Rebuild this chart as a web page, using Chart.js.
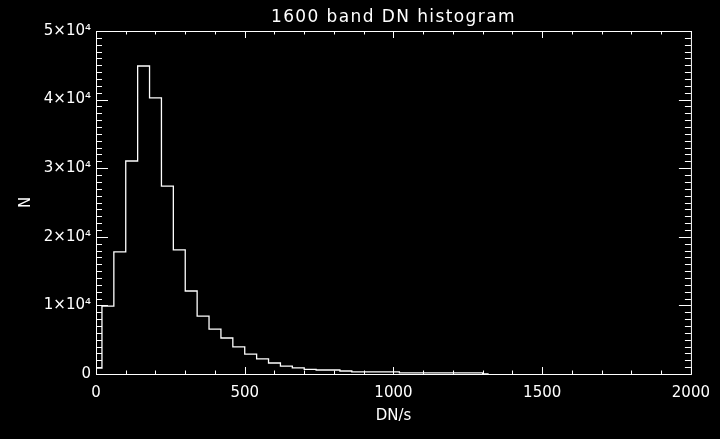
<!DOCTYPE html>
<html>
<head>
<meta charset="utf-8">
<script src="https://cdn.jsdelivr.net/npm/chart.js@4.4.0/dist/chart.umd.min.js"></script>
<style>
  html, body { margin: 0; padding: 0; background: #000; }
  #wrap { width: 720px; height: 439px; }
</style>
</head>
<body>
<div id="wrap"><canvas id="histChart"></canvas></div>
<script>
// bin centres (DN/s) and counts
const binCenters = [0, 40, 80, 120, 160, 200, 240, 280, 320, 360, 400, 440, 480, 520,
  560, 600, 640, 680, 720, 760, 800, 840, 880, 920, 960, 1000, 1040, 1080, 1120,
  1160, 1200, 1240, 1280, 1320];
const counts = [850, 9900, 17800, 31050, 44900, 40250, 27400, 18100, 12100, 8450, 6550,
  5250, 3950, 2900, 2200, 1600, 1150, 880, 670, 580, 580, 440, 300, 300, 300, 300,
  150, 150, 150, 150, 150, 150, 150, 0];

const xTickLabels = ['0', '500', '1000', '1500', '2000'];
const yTickLabels = ['0', '1×10⁴', '2×10⁴', '3×10⁴', '4×10⁴', '5×10⁴'];
const chartTitle = '1600 band DN histogram';

const xMajor = 500, xMinor = 100;
const yMajor = 10000, yMinor = 1000;

const fg = '#ffffff';
const fontFamily = "'DejaVu Sans', sans-serif";

// IDL style box with inward ticks on all four sides, plus the plot title
const boxTicks = {
    id: 'boxTicks',
    beforeDraw(chart) {
        const ctx = chart.ctx;
        ctx.save();
        ctx.fillStyle = '#000';
        ctx.fillRect(0, 0, chart.width, chart.height);
        ctx.restore();
    },
    afterDatasetsDraw(chart) {
        const {ctx, chartArea: a, scales: {x, y}} = chart;
        ctx.save();
        ctx.strokeStyle = fg;
        ctx.lineWidth = 1;
        ctx.strokeRect(a.left + 0.5, a.top + 0.5, a.right - a.left, a.bottom - a.top);
        ctx.beginPath();
        for (let v = x.min; v <= x.max; v += xMinor) {
            const px = Math.round(x.getPixelForValue(v)) + 0.5;
            const len = v % xMajor === 0 ? 7 : 3.5;
            ctx.moveTo(px, a.bottom);
            ctx.lineTo(px, a.bottom - len);
            ctx.moveTo(px, a.top);
            ctx.lineTo(px, a.top + len);
        }
        for (let v = y.min; v <= y.max; v += yMinor) {
            const py = Math.round(y.getPixelForValue(v)) + 0.5;
            const len = v % yMajor === 0 ? 12 : 6;
            ctx.moveTo(a.left, py);
            ctx.lineTo(a.left + len, py);
            ctx.moveTo(a.right, py);
            ctx.lineTo(a.right - len, py);
        }
        ctx.stroke();

        // title centred over the plot box, wide spacing like the IDL font
        ctx.fillStyle = fg;
        ctx.font = '17px ' + fontFamily;
        ctx.letterSpacing = '1.4px';
        ctx.textAlign = 'center';
        ctx.textBaseline = 'alphabetic';
        ctx.fillText(chartTitle, (a.left + a.right) / 2, 21.5);
        ctx.restore();
    }
};

const ctx = document.getElementById('histChart').getContext('2d');
const histChart = new Chart(ctx, {
    type: 'line',
    data: {
        datasets: [{
            label: 'N',
            data: binCenters.map((c, i) => ({x: c, y: counts[i]})),
            stepped: 'middle',
            borderColor: fg,
            borderWidth: 1.3,
            pointRadius: 0,
            fill: false
        }]
    },
    options: {
        responsive: true,
        maintainAspectRatio: false,
        animation: false,
        layout: {
            padding: {left: 0, right: 29, top: 31, bottom: 0}
        },
        plugins: {
            legend: {display: false},
            tooltip: {enabled: false},
            title: {display: false}
        },
        scales: {
            x: {
                type: 'linear',
                min: 0,
                max: 2000,
                grid: {display: false, drawTicks: false},
                border: {display: false},
                ticks: {
                    stepSize: xMajor,
                    color: fg,
                    padding: 10,
                    maxRotation: 0,
                    font: {family: fontFamily, size: 15},
                    callback: (v, i) => xTickLabels[i]
                },
                title: {
                    display: true,
                    text: 'DN/s',
                    color: fg,
                    font: {family: fontFamily, size: 15},
                    padding: {top: 14, bottom: 14}
                },
                afterFit(scale) { scale.height = 65; }
            },
            y: {
                type: 'linear',
                min: 0,
                max: 50000,
                grid: {display: false, drawTicks: false},
                border: {display: false},
                ticks: {
                    stepSize: yMajor,
                    color: fg,
                    padding: 5,
                    font: {family: fontFamily, size: 15},
                    callback: (v, i) => yTickLabels[i]
                },
                title: {
                    display: true,
                    text: 'N',
                    color: fg,
                    font: {family: fontFamily, size: 15},
                    padding: {top: 17, bottom: 17}
                },
                afterFit(scale) { scale.width = 96; }
            }
        }
    },
    plugins: [boxTicks]
});
</script>
</body>
</html>
